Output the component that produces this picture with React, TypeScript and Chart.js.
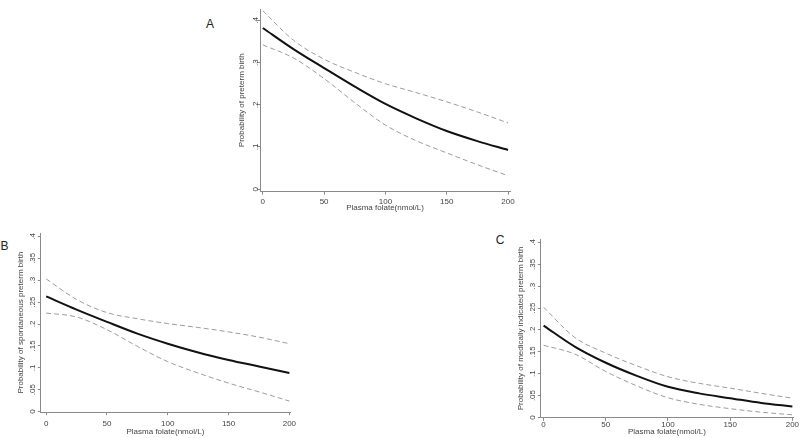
import React, { useEffect, useRef } from "react";
import { Chart, registerables } from "chart.js";
Chart.register(...registerables);

// ---- data ----
const folate = [0, 25, 50, 75, 100, 125, 150, 175, 200];
const xTickValues = [0, 50, 100, 150, 200];
const yTicksA = [0, 0.1, 0.2, 0.3, 0.4];
const yTicksBC = [0, 0.05, 0.1, 0.15, 0.2, 0.25, 0.3, 0.35, 0.4];

const aFit = [0.382, 0.332, 0.287, 0.243, 0.202, 0.168, 0.138, 0.114, 0.093];
const aUpper = [0.423, 0.353, 0.308, 0.277, 0.250, 0.229, 0.207, 0.183, 0.157];
const aLower = [0.342, 0.311, 0.262, 0.205, 0.152, 0.115, 0.086, 0.058, 0.032];

const bFit = [0.263, 0.233, 0.205, 0.178, 0.155, 0.135, 0.118, 0.103, 0.088];
const bUpper = [0.303, 0.256, 0.226, 0.212, 0.201, 0.192, 0.182, 0.170, 0.155];
const bLower = [0.225, 0.216, 0.187, 0.149, 0.114, 0.088, 0.065, 0.045, 0.024];

const cFit = [0.210, 0.162, 0.125, 0.095, 0.070, 0.055, 0.044, 0.033, 0.025];
const cUpper = [0.252, 0.183, 0.147, 0.118, 0.093, 0.078, 0.067, 0.055, 0.044];
const cLower = [0.165, 0.145, 0.105, 0.072, 0.045, 0.030, 0.020, 0.012, 0.006];

const xTitle = "Plasma folate(nmol/L)";
const yTitleA = "Probability of preterm birth";
const yTitleB = "Probability of spontaneous preterm birth";
const yTitleC = "Probability of medically indicated preterm birth";

const FONT = "'Liberation Sans', Arial, sans-serif";
const AXIS_COLOR = "#8a8a8a";
const TEXT_COLOR = "#444";

function fmt(v: number): string {
  if (Math.abs(v) < 1e-9) return "0";
  return parseFloat(v.toFixed(2)).toString().replace(/^0\./, ".");
}

type PanelCfg = {
  CL: number; CR: number; CT: number; CB: number;
  yW: number; xH: number; padTop: number; padRight: number;
  xMin: number; xMax: number; yMin: number; yMax: number;
  yTicks: number[]; yTickOff: number; xTickOff: number;
  fit: number[]; upper: number[]; lower: number[];
  yTitle: string;
};

function Panel({ cfg }: { cfg: PanelCfg }) {
  const ref = useRef<HTMLCanvasElement | null>(null);
  const width = Math.round(cfg.yW + (cfg.CR - cfg.CL) + cfg.padRight);
  const height = Math.round(cfg.padTop + (cfg.CB - cfg.CT) + cfg.xH);
  const left = cfg.CL - cfg.yW;
  const top = cfg.CT - cfg.padTop;

  useEffect(() => {
    if (!ref.current) return;
    const tl = 3;
    const mctx = document.createElement("canvas").getContext("2d")!;
    mctx.font = `8px ${FONT}`;
    const widest = Math.max(...cfg.yTicks.map((v) => mctx.measureText(fmt(v)).width));
    const dashed = (d: any[]) => ({
      data: d,
      borderColor: "#9c9c9c",
      borderWidth: 1,
      borderDash: [5, 3],
      pointRadius: 0,
      fill: false,
      cubicInterpolationMode: "monotone" as const,
    });
    const chart = new Chart(ref.current, {
      type: "line",
      data: {
        labels: folate,
        datasets: [
          dashed(folate.map((x, i) => ({ x, y: cfg.upper[i] }))),
          dashed(folate.map((x, i) => ({ x, y: cfg.lower[i] }))),
          {
            data: folate.map((x, i) => ({ x, y: cfg.fit[i] })) as any,
            borderColor: "#111",
            borderWidth: 2,
            pointRadius: 0,
            fill: false,
            cubicInterpolationMode: "monotone",
          },
        ] as any,
      },
      options: {
        animation: false,
        responsive: false,
        devicePixelRatio: 1,
        layout: { padding: { left: 0, top: cfg.padTop, right: cfg.padRight, bottom: 0 } },
        plugins: { legend: { display: false }, tooltip: { enabled: false }, title: { display: false } },
        scales: {
          x: {
            type: "linear",
            min: cfg.xMin,
            max: cfg.xMax,
            afterBuildTicks: (s: any) => {
              s.ticks = xTickValues.map((v) => ({ value: v }));
            },
            afterFit: (s: any) => {
              s.height = cfg.xH;
              s.paddingLeft = 0;
              s.paddingRight = 0;
            },
            grid: { drawOnChartArea: false, drawTicks: true, tickLength: tl, color: AXIS_COLOR, lineWidth: 1 },
            border: { display: true, color: AXIS_COLOR, width: 1 },
            ticks: {
              autoSkip: false,
              maxRotation: 0,
              minRotation: 0,
              padding: cfg.xTickOff - tl - 4.8,
              color: TEXT_COLOR,
              font: { family: FONT, size: 8 },
              callback: (v: any) => String(v),
            },
            title: {
              display: true,
              text: xTitle,
              color: TEXT_COLOR,
              font: { family: FONT, size: 8 },
              padding: 0,
            },
          },
          y: {
            type: "linear",
            min: cfg.yMin,
            max: cfg.yMax,
            afterBuildTicks: (s: any) => {
              s.ticks = cfg.yTicks.map((v) => ({ value: v }));
            },
            afterFit: (s: any) => {
              s.width = cfg.yW;
              s.paddingTop = 0;
              s.paddingBottom = 0;
            },
            grid: { drawOnChartArea: false, drawTicks: true, tickLength: tl, color: AXIS_COLOR, lineWidth: 1 },
            border: { display: true, color: AXIS_COLOR, width: 1 },
            ticks: {
              autoSkip: false,
              minRotation: 90,
              maxRotation: 90,
              crossAlign: "center",
              padding: cfg.yTickOff - tl - widest / 2,
              color: TEXT_COLOR,
              font: { family: FONT, size: 8 },
              callback: (v: any) => fmt(Number(v)),
            },
            title: {
              display: true,
              text: cfg.yTitle,
              color: TEXT_COLOR,
              font: { family: FONT, size: 8 },
              padding: 0,
            },
          },
        },
      },
    });
    return () => chart.destroy();
  }, []);

  return (
    <canvas
      ref={ref}
      width={width}
      height={height}
      style={{ position: "absolute", left, top, width, height }}
    />
  );
}

const panelA: PanelCfg = {
  CL: 260, CR: 510, CT: 9.3, CB: 191.7, yW: 23.1, xH: 21.4, padTop: 6, padRight: 12,
  xMin: -2.2, xMax: 201.6, yMin: -0.0057, yMax: 0.427,
  yTicks: yTicksA, yTickOff: 4.6, xTickOff: 10,
  fit: aFit, upper: aUpper, lower: aLower, yTitle: yTitleA,
};
const panelB: PanelCfg = {
  CL: 40.7, CR: 289.6, CT: 233.3, CB: 412.3, yW: 24.8, xH: 24.8, padTop: 6, padRight: 12,
  xMin: -4.4, xMax: 200.5, yMin: -0.0014, yMax: 0.4078,
  yTicks: yTicksBC, yTickOff: 8, xTickOff: 11.9,
  fit: bFit, upper: bUpper, lower: bLower, yTitle: yTitleB,
};
const panelC: PanelCfg = {
  CL: 541, CR: 793.6, CT: 239, CB: 418, yW: 24.8, xH: 19.1, padTop: 6, padRight: 6,
  xMin: -2.25, xMax: 200.5, yMin: -0.0011, yMax: 0.408,
  yTicks: yTicksBC, yTickOff: 8, xTickOff: 7.2,
  fit: cFit, upper: cUpper, lower: cLower, yTitle: yTitleC,
};

const letterStyle = (x: number, y: number): React.CSSProperties => ({
  position: "absolute",
  left: x,
  top: y,
  transform: "translate(-50%, -50%)",
  font: `12px ${FONT}`,
  color: "#222",
  lineHeight: "12px",
});

export default function App() {
  return (
    <div style={{ position: "absolute", left: 0, top: 0, width: 800, height: 438, background: "#fff", overflow: "hidden" }}>
      <div style={letterStyle(210, 24)}>A</div>
      <div style={letterStyle(4.5, 246)}>B</div>
      <div style={letterStyle(500, 240)}>C</div>
      <Panel cfg={panelA} />
      <Panel cfg={panelB} />
      <Panel cfg={panelC} />
    </div>
  );
}
